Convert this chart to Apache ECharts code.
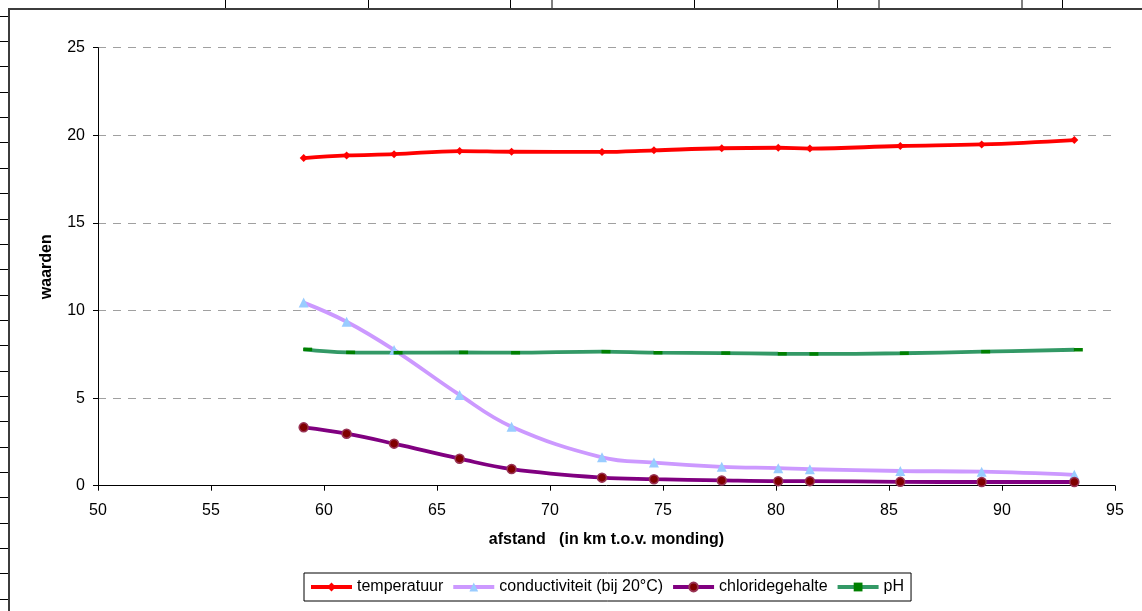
<!DOCTYPE html>
<html>
<head>
<meta charset="utf-8">
<script src="https://cdn.jsdelivr.net/npm/echarts@6/dist/echarts.min.js"></script>
<style>
html,body{margin:0;padding:0;background:#fff;}
#chart{width:1142px;height:611px;}
</style>
</head>
<body>
<div id="chart"></div>
<script>
// ---- data ----
const distances = [59.1, 61.0, 63.1, 66.0, 68.3, 72.3, 74.6, 77.6, 80.1, 81.5, 85.5, 89.1, 93.2];
const temperatuur = [18.7, 18.85, 18.92, 19.1, 19.06, 19.05, 19.14, 19.26, 19.29, 19.24, 19.39, 19.48, 19.73];
const conductiviteit = [10.45, 9.36, 7.75, 5.18, 3.37, 1.62, 1.32, 1.08, 1.0, 0.94, 0.84, 0.8, 0.62];
const chloridegehalte = [3.33, 2.97, 2.4, 1.54, 0.95, 0.46, 0.37, 0.3, 0.26, 0.26, 0.22, 0.21, 0.21];
const pH = [7.78, 7.61, 7.59, 7.61, 7.59, 7.65, 7.59, 7.57, 7.53, 7.52, 7.56, 7.65, 7.76];
const seriesNames = ['temperatuur', 'conductiviteit (bij 20°C)', 'chloridegehalte', 'pH'];
const xTicks = { min: 50, max: 95, interval: 5 };
const yTicks = { min: 0, max: 25, interval: 5 };

const FONT = '"Liberation Sans", Arial, sans-serif';
const pairs = vals => distances.map((d, i) => [d, vals[i]]);

// decorative spreadsheet frame
const frame = [];
frame.push({ type: 'polyline', shape: { points: [[9, 611], [9, 9], [1142, 9]] }, style: { stroke: '#3c3c3c', lineWidth: 2, fill: null }, silent: true });
for (let k = 0; k < 24; k++) {
  const y = Math.round(15.7 + 25.35 * k) + 0.5;
  frame.push({ type: 'line', shape: { x1: 0, y1: y, x2: 8, y2: y }, style: { stroke: '#000', lineWidth: 1 }, silent: true });
}
[225.5, 368.5, 510.5, 552, 694.5, 837.5, 879, 1022, 1062.5].forEach(x => {
  frame.push({ type: 'line', shape: { x1: x, y1: 0, x2: x, y2: 8 }, style: { stroke: '#000', lineWidth: 1 }, silent: true });
});

const chart = echarts.init(document.getElementById('chart'), null, { renderer: 'canvas' });
const SM = 0.4;
const LW = 3.8;
chart.setOption({
  backgroundColor: '#fff',
  animation: false,
  textStyle: { fontFamily: FONT },
  graphic: frame,
  grid: { left: 98, right: 27, top: 47.7, bottom: 125.3, containLabel: false },
  xAxis: {
    type: 'value', min: xTicks.min, max: xTicks.max, interval: xTicks.interval,
    name: 'afstand   (in km t.o.v. monding)', nameLocation: 'middle', nameGap: 46,
    nameTextStyle: { fontFamily: FONT, fontSize: 16, fontWeight: 'bold', color: '#000' },
    axisLine: { show: true, lineStyle: { color: '#000', width: 1 } },
    axisTick: { show: true, length: 5, lineStyle: { color: '#000' } },
    axisLabel: { fontFamily: FONT, fontSize: 16, color: '#000', margin: 17 },
    splitLine: { show: false }
  },
  yAxis: {
    type: 'value', min: yTicks.min, max: yTicks.max, interval: yTicks.interval,
    name: 'waarden', nameLocation: 'middle', nameGap: 43, nameRotate: 90,
    nameTextStyle: { fontFamily: FONT, fontSize: 16, fontWeight: 'bold', color: '#000' },
    axisLine: { show: true, lineStyle: { color: '#000', width: 1 } },
    axisTick: { show: true, length: 5, lineStyle: { color: '#000' } },
    axisLabel: { fontFamily: FONT, fontSize: 16, color: '#000', margin: 13 },
    splitLine: { show: true, lineStyle: { color: '#a0a0a0', type: [8, 7], width: 1 } }
  },
  legend: {
    left: 304, top: 573,
    padding: [6, 7, 6, 5], itemGap: 8, itemWidth: 41, itemHeight: 11,
    borderColor: '#000', borderWidth: 1,
    lineStyle: { width: 4 },
    textStyle: { fontFamily: FONT, fontSize: 16, color: '#000' },
    data: seriesNames
  },
  series: [
    {
      name: seriesNames[0], type: 'line', data: pairs(temperatuur), smooth: SM,
      lineStyle: { color: '#ff0000', width: LW },
      itemStyle: { color: '#ff0000' },
      symbol: 'diamond', symbolSize: 8
    },
    {
      name: seriesNames[1], type: 'line', data: pairs(conductiviteit), smooth: SM,
      lineStyle: { color: '#cc99ff', width: LW },
      itemStyle: { color: '#99ccff' },
      symbol: 'triangle', symbolSize: 10
    },
    {
      name: seriesNames[2], type: 'line', data: pairs(chloridegehalte), smooth: SM,
      lineStyle: { color: '#800080', width: LW },
      itemStyle: { color: '#800000', borderColor: '#993355', borderWidth: 1.5 },
      symbol: 'circle', symbolSize: 9
    },
    {
      name: seriesNames[3], type: 'line', data: pairs(pH), smooth: SM,
      lineStyle: { color: '#339966', width: LW },
      itemStyle: { color: '#008000' },
      symbol: 'rect', symbolSize: [9, 3.5], symbolOffset: [4, 0]
    }
  ]
});
</script>
</body>
</html>
